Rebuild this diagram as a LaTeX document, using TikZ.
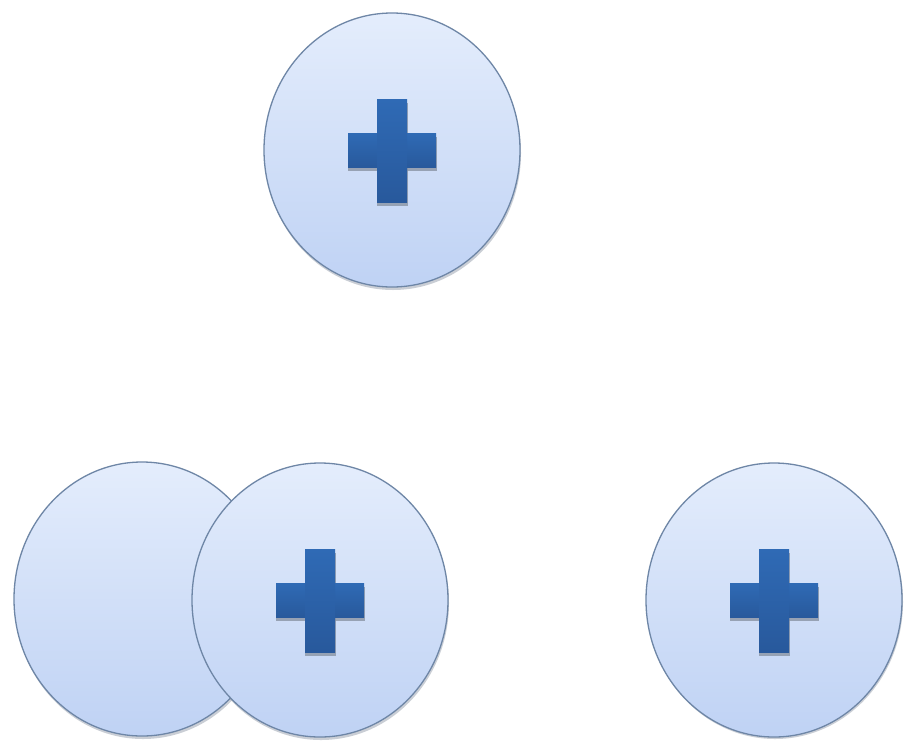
\documentclass[tikz,border=0pt]{standalone}
\usetikzlibrary{shapes.geometric,calc}
\definecolor{rimc}{HTML}{6E86A6}
\definecolor{filltop}{HTML}{E4EDFC}
\definecolor{fillbot}{HTML}{BFD2F4}
\definecolor{pluscol}{HTML}{2F6AB5}
\definecolor{plusdark}{HTML}{28599C}
\definecolor{shadowc}{HTML}{8A94A4}
\tikzset{
  disc/.style={ellipse, minimum width=256pt, minimum height=274pt, inner sep=0pt,
    draw=rimc, line width=1.3pt, top color=filltop, bottom color=fillbot},
  discshadow/.style={ellipse, minimum width=256pt, minimum height=274pt, inner sep=0pt,
    fill=shadowc, opacity=0.45}
}
\newcommand{\plussign}[1]{%
  \fill[shadowc,opacity=0.8] ($(#1)+(-44,-13)$) rectangle ($(#1)+(45,21)$);
  \fill[shadowc,opacity=0.8] ($(#1)+(-15,-47)$) rectangle ($(#1)+(16,56)$);
  \shade[top color=pluscol, bottom color=plusdark] ($(#1)+(-44,-17)$) rectangle ($(#1)+(44,17)$);
  \shade[top color=pluscol, bottom color=plusdark] ($(#1)+(-15,-51)$) rectangle ($(#1)+(15,52)$);
}
\begin{document}
\begin{tikzpicture}[x=1pt,y=-1pt]
\useasboundingbox (0,0) rectangle (904,742);
\fill[white] (0,0) rectangle (904,742);
% shadows
\node[discshadow] (s1) at (393,153) {};
\node[discshadow] (s2) at (143,602) {};
\node[discshadow] (s3) at (321,603) {};
\node[discshadow] (s4) at (775,602) {};
% discs
\node[disc] (top) at (392,150) {};
\node[disc] (back) at (142,599) {};
\node[disc] (mid) at (320,600) {};
\node[disc] (right) at (774,600) {};
% plus signs
\plussign{top}
\plussign{mid}
\plussign{right}
\end{tikzpicture}
\end{document}
